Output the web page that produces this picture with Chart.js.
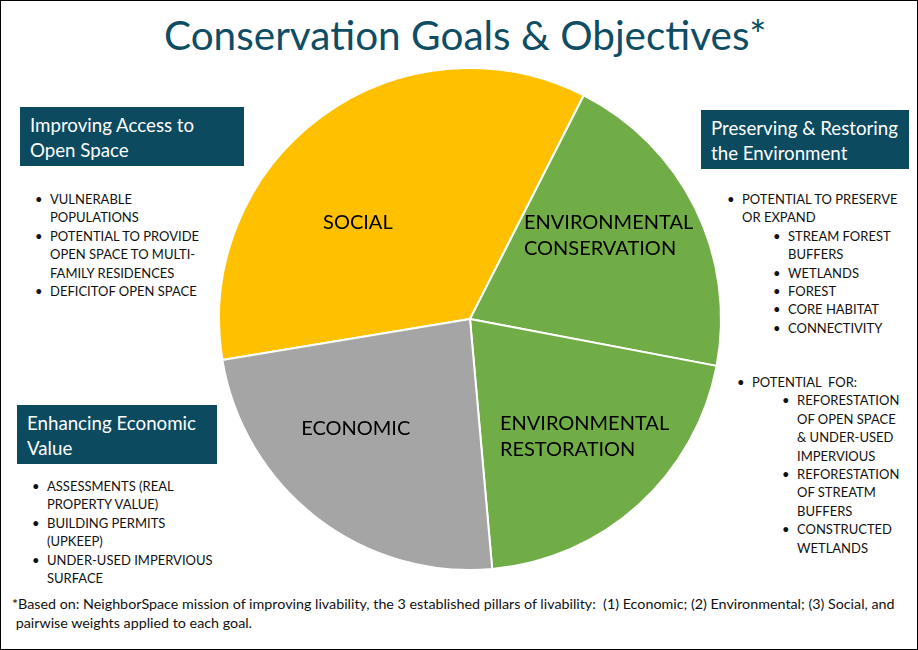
<!DOCTYPE html>
<html>
<head>
<meta charset="utf-8">
<script src="https://cdn.jsdelivr.net/npm/chart.js@4.4.1/dist/chart.umd.min.js"></script>
<style>
  body { margin: 0; background: #fff; }
  #page { position: relative; width: 918px; height: 650px; overflow: hidden; font-family: Lato, "Noto Sans", sans-serif; color: #111; }
  #edge { position: absolute; left: 0; top: 0; width: 918px; height: 650px; box-sizing: border-box; border: 1px solid #000; pointer-events: none; }
  #title { position: absolute; left: 164px; top: 11px; font-size: 40.5px; line-height: 48px; color: #0e4d64; white-space: nowrap; }
  #pieWrap { position: absolute; left: 210px; top: 59px; width: 520px; height: 520px; }
  .box { position: absolute; height: 59px; box-sizing: border-box; padding: 5.5px 0 0 10px; background: #0b4a5f; color: #fff; font-size: 18.7px; line-height: 25px; white-space: nowrap; }
  .list { position: absolute; font-size: 13px; line-height: 18.4px; white-space: nowrap; }
  .list div { position: relative; }
  .list div::before { content: "\2022"; position: absolute; left: -15px; }
  .list div.cont::before { content: none; }
  #note { position: absolute; left: 12px; top: 594px; font-size: 14.3px; line-height: 19px; white-space: nowrap; }
</style>
</head>
<body>
<div id="page">
  <div id="title">Conservation Goals &amp; Objectives*</div>

  <div class="box" style="left:20px; top:107px; width:224px;">Improving Access to<br>Open Space</div>
  <div class="list" id="socialList" style="left:50px; top:190px;"></div>

  <div class="box" style="left:701px; top:110px; width:208px;">Preserving &amp; Restoring<br>the Environment</div>
  <div class="list" id="consList" style="left:742px; top:190px;"></div>
  <div class="list" id="restList" style="left:752px; top:373px;"></div>

  <div class="box" style="left:17px; top:405px; width:200px;">Enhancing Economic<br>Value</div>
  <div class="list" id="econList" style="left:47px; top:477px;"></div>

  <div id="pieWrap"><canvas id="pie" width="520" height="520"></canvas></div>

  <div id="note">*Based on: NeighborSpace mission of improving livability, the 3 established pillars of livability:&nbsp; (1) Economic; (2) Environmental; (3) Social, and<br>&nbsp;pairwise weights applied to each goal.</div>
  <div id="edge"></div>
</div>

<script>
// slices, clockwise from the Social / Economic boundary
const goals = [['SOCIAL'], ['ENVIRONMENTAL', 'CONSERVATION'], ['ENVIRONMENTAL', 'RESTORATION'], ['ECONOMIC']];
const weights = [35.1, 20.5, 20.6, 23.8];
const sliceColors = ['#ffc000', '#70ad47', '#70ad47', '#a5a5a5'];

// bullet text, one entry per printed line; [level, isBulletStart, text]
const socialItems = [
  [0, true, 'VULNERABLE'], [0, false, 'POPULATIONS'],
  [0, true, 'POTENTIAL TO PROVIDE'], [0, false, 'OPEN SPACE TO MULTI-'], [0, false, 'FAMILY RESIDENCES'],
  [0, true, 'DEFICITOF OPEN SPACE']
];
const consItems = [
  [0, true, 'POTENTIAL TO PRESERVE'], [0, false, 'OR EXPAND'],
  [1, true, 'STREAM FOREST'], [1, false, 'BUFFERS'],
  [1, true, 'WETLANDS'], [1, true, 'FOREST'], [1, true, 'CORE HABITAT'], [1, true, 'CONNECTIVITY']
];
const restItems = [
  [0, true, 'POTENTIAL\u00a0 FOR:'],
  [1, true, 'REFORESTATION'], [1, false, 'OF OPEN SPACE'], [1, false, '& UNDER-USED'], [1, false, 'IMPERVIOUS'],
  [1, true, 'REFORESTATION'], [1, false, 'OF STREATM'], [1, false, 'BUFFERS'],
  [1, true, 'CONSTRUCTED'], [1, false, 'WETLANDS']
];
const econItems = [
  [0, true, 'ASSESSMENTS (REAL'], [0, false, 'PROPERTY VALUE)'],
  [0, true, 'BUILDING PERMITS'], [0, false, '(UPKEEP)'],
  [0, true, 'UNDER-USED IMPERVIOUS'], [0, false, 'SURFACE']
];

const fillList = (id, items, indent) => {
  const el = document.getElementById(id);
  items.forEach(([level, start, text]) => {
    const line = document.createElement('div');
    line.textContent = text;
    line.style.marginLeft = (level * indent) + 'px';
    if (!start) line.classList.add('cont');
    el.appendChild(line);
  });
};

fillList('socialList', socialItems, 0);
fillList('consList', consItems, 46);
fillList('restList', restItems, 45);
fillList('econList', econItems, 0);

// draws the slice names inside the pie, left-aligned block centred on a point
const sliceLabels = {
  id: 'sliceLabels',
  afterDatasetsDraw(chart, args, opts) {
    const ctx = chart.ctx;
    const arcs = chart.getDatasetMeta(0).data;
    ctx.save();
    ctx.font = opts.font;
    ctx.fillStyle = opts.color;
    ctx.textBaseline = 'middle';
    ctx.textAlign = 'left';
    arcs.forEach((arc, i) => {
      const p = arc.getProps(['x', 'y', 'startAngle', 'endAngle', 'outerRadius'], true);
      const [turn, frac] = opts.shift[i];
      const mid = (p.startAngle + p.endAngle) / 2 + turn * Math.PI / 180;
      const cx = p.x + Math.cos(mid) * p.outerRadius * frac;
      const cy = p.y + Math.sin(mid) * p.outerRadius * frac;
      const lines = chart.data.labels[i];
      const w = Math.max(...lines.map(l => ctx.measureText(l).width));
      const top = cy - (lines.length - 1) * opts.lineHeight / 2;
      lines.forEach((l, j) => ctx.fillText(l, cx - w / 2, top + j * opts.lineHeight));
    });
    ctx.restore();
  }
};

new Chart(document.getElementById('pie').getContext('2d'), {
  type: 'pie',
  data: {
    labels: goals,
    datasets: [
      {
        data: weights,
        backgroundColor: sliceColors,
        borderColor: '#ffffff',
        borderWidth: 2,
        radius: 251
      }
    ]
  },
  options: {
    responsive: false,
    animation: false,
    rotation: 260.6,
    layout: { padding: 0 },
    plugins: {
      legend: { display: false },
      tooltip: { enabled: false },
      sliceLabels: {
        font: '20px Lato, "Noto Sans", sans-serif',
        color: '#000',
        lineHeight: 26,
        shift: [[-13, 0.59], [-5, 0.645], [-2, 0.655], [8.5, 0.63]]
      }
    }
  },
  plugins: [sliceLabels]
});
</script>
</body>
</html>
